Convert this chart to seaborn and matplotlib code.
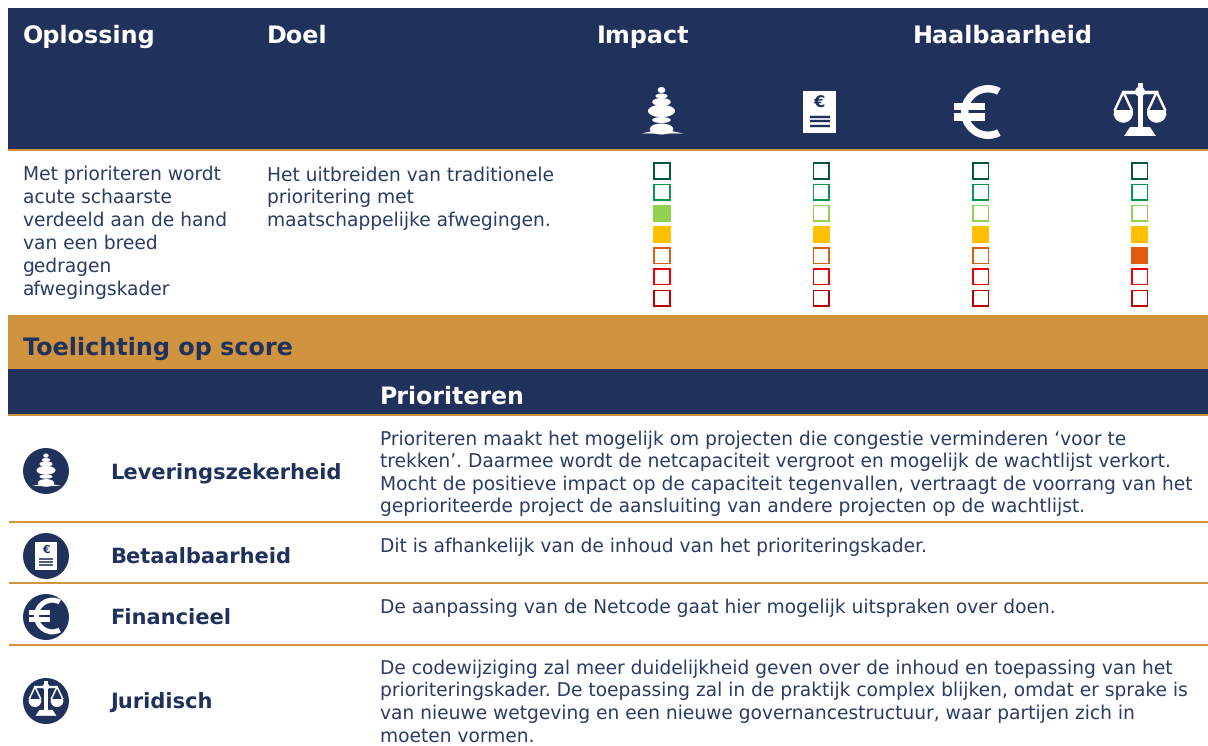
"""Scorecard for the oplossing Prioriteren"""

import pandas as pd
import matplotlib
matplotlib.use('Agg')
import matplotlib.pyplot as plt
import seaborn as sns
from matplotlib.patches import Circle, Ellipse, Polygon, Rectangle, Wedge

NAVY = '#20315C'
GOLD = '#D09441'
TEXT = '#2A3B66'

W, H = 1208, 746

# Score data
score_columns = ['Impact', 'Betaalbaarheid', 'Financieel', 'Juridisch']
score_levels = [0, 1, 2, 3, 4, 5, 6]
level_colors = ['#00573F', '#00994F', '#92D050', '#FFC000', '#E05A10', '#F00000', '#C00000']
filled_columns = ['Impact', 'Impact', 'Betaalbaarheid', 'Financieel', 'Juridisch', 'Juridisch']
filled_levels = [2, 3, 3, 3, 3, 4]

# Text
oplossing_lines = ['Met prioriteren wordt', 'acute schaarste', 'verdeeld aan de hand',
                   'van een breed', 'gedragen', 'afwegingskader']
doel_lines = ['Het uitbreiden van traditionele', 'prioritering met', 'maatschappelijke afwegingen.']
row_titles = ['Leveringszekerheid', 'Betaalbaarheid', 'Financieel', 'Juridisch']
row_lines = [
    ['Prioriteren maakt het mogelijk om projecten die congestie verminderen ‘voor te',
     'trekken’. Daarmee wordt de netcapaciteit vergroot en mogelijk de wachtlijst verkort.',
     'Mocht de positieve impact op de capaciteit tegenvallen, vertraagt de voorrang van het',
     'geprioriteerde project de aansluiting van andere projecten op de wachtlijst.'],
    ['Dit is afhankelijk van de inhoud van het prioriteringskader.'],
    ['De aanpassing van de Netcode gaat hier mogelijk uitspraken over doen.'],
    ['De codewijziging zal meer duidelijkheid geven over de inhoud en toepassing van het',
     'prioriteringskader. De toepassing zal in de praktijk complex blijken, omdat er sprake is',
     'van nieuwe wetgeving en een nieuwe governancestructuur, waar partijen zich in',
     'moeten vormen.'],
]


def stones_icon(ax, cx, cy, k, fg):
    for dy, w, h in [(-22, 7.5, 6), (-16, 12, 5), (-10, 18.5, 8), (-1, 27, 12.5),
                     (8, 18.5, 6), (17, 23.5, 11)]:
        ax.add_patch(Ellipse((cx, cy + dy * k), w * k, h * k, color=fg, lw=0))
    ax.add_patch(Polygon([(cx - 20 * k, cy + 21.5 * k), (cx - 9 * k, cy + 19 * k),
                          (cx + 10 * k, cy + 19 * k), (cx + 22 * k, cy + 21.5 * k)],
                         color=fg, lw=0))


def doc_icon(ax, cx, cy, k, fg, bg):
    ax.add_patch(Rectangle((cx - 16.5 * k, cy - 21 * k), 33 * k, 42 * k, color=fg, lw=0))
    ax.text(cx, cy - 9 * k, '€', color=bg, fontsize=11.8 * k, fontweight='bold',
            ha='center', va='center')
    for dy in [4.7, 9.3, 14]:
        ax.plot([cx - 10 * k, cx + 10 * k], [cy + dy * k, cy + dy * k], color=bg,
                lw=1.7 * k, solid_capstyle='butt')


def euro_icon(ax, cx, cy, k, fg):
    ax.add_patch(Wedge((cx + 13 * k, cy), 27 * k, 62, 298, width=7.5 * k, color=fg, lw=0))
    for dy in [-5.6, 5]:
        ax.add_patch(Rectangle((cx - 21 * k, cy + (dy - 3.6) * k), 31 * k, 7.2 * k, color=fg, lw=0))


def scales_icon(ax, cx, cy, k, fg):
    ax.add_patch(Rectangle((cx - 2.5 * k, cy - 29 * k), 5 * k, 47 * k, color=fg, lw=0))
    ax.add_patch(Circle((cx, cy - 20.3 * k), 5 * k, color=fg, lw=0))
    ax.plot([cx - 18 * k, cx + 18 * k], [cy - 20.3 * k, cy - 20.3 * k], color=fg,
            lw=2.5 * k, solid_capstyle='butt')
    ax.add_patch(Polygon([(cx - 16 * k, cy + 24 * k), (cx + 16 * k, cy + 24 * k),
                          (cx + 10 * k, cy + 15 * k), (cx - 10 * k, cy + 15 * k)],
                         color=fg, lw=0))
    for side in [-1, 1]:
        px = cx + side * 16.7 * k
        ax.add_patch(Wedge((px, cy + 1 * k), 9.7 * k, 0, 180, color=fg, lw=0))
        ax.add_patch(Rectangle((px - 9.7 * k, cy - 2 * k), 19.4 * k, 3.1 * k, color=fg, lw=0))
        ax.plot([px - 8.5 * k, px, px + 8.5 * k], [cy - 2 * k, cy - 20 * k, cy - 2 * k],
                color=fg, lw=1.8 * k)


sns.set_theme(style='white')
plt.rcParams['font.family'] = ['DejaVu Sans']
plt.rcParams['text.hinting'] = 'none'

fig = plt.figure(figsize=(W / 100, H / 100), dpi=100, facecolor='white')
ax = fig.add_axes([0, 0, 1, 1])
ax.set_xlim(0, W)
ax.set_ylim(H, 0)
ax.axis('off')

# Bands
ax.add_patch(Rectangle((8, 8), W - 8, 141, color=NAVY, lw=0))
ax.add_patch(Rectangle((8, 149), W - 8, 2, color=GOLD, lw=0))
ax.add_patch(Rectangle((8, 315), W - 8, 54, color=GOLD, lw=0))
ax.add_patch(Rectangle((8, 369), W - 8, 45, color=NAVY, lw=0))
ax.add_patch(Rectangle((8, 414), W - 8, 1.5, color=GOLD, lw=0))
for y in [521, 582, 644]:
    ax.add_patch(Rectangle((9, y), W - 9, 1.5, color=GOLD, lw=0))

# Header text
for x, label in [(23, 'Oplossing'), (267, 'Doel'), (597, 'Impact'), (913, 'Haalbaarheid')]:
    ax.text(x, 43, label, color='white', fontsize=17.2, fontweight='bold', va='baseline')

# Header icons
stones_icon(ax, 661.5, 112, 1, 'white')
doc_icon(ax, 819.5, 112, 1, 'white', NAVY)
euro_icon(ax, 975, 112, 1, 'white')
scales_icon(ax, 1140, 112, 1, 'white')

# Oplossing and doel
for i, line in enumerate(oplossing_lines):
    ax.text(23, 180 + i * 23, line, color=TEXT, fontsize=13.45, va='baseline')
for i, line in enumerate(doel_lines):
    ax.text(267, 181 + i * 22.5, line, color=TEXT, fontsize=13.45, va='baseline')

# Explanation headers
ax.text(23, 355, 'Toelichting op score', color=NAVY, fontsize=17.2, fontweight='bold', va='baseline')
ax.text(380, 404, 'Prioriteren', color='white', fontsize=17, fontweight='bold', va='baseline')

# Explanation rows
title_y = [479, 564, 625, 709]
line_y = [445, 552, 613, 674]
for title, lines, ty, ly in zip(row_titles, row_lines, title_y, line_y):
    ax.text(110, ty, title, color=NAVY, fontsize=15.1, fontweight='bold', va='baseline')
    for i, line in enumerate(lines):
        ax.text(380, ly + i * 22.5, line, color=TEXT, fontsize=13.45, va='baseline')

# Round icons
for cy in [471, 556, 617, 701]:
    ax.add_patch(Circle((46, cy), 23, color=NAVY, lw=0))
stones_icon(ax, 46, 471, 0.7, 'white')
doc_icon(ax, 46, 556, 0.66, 'white', NAVY)
euro_icon(ax, 43.5, 616, 0.68, 'white')
scales_icon(ax, 46, 700, 0.66, 'white')

# Score squares on their own axes, columns 159.3 px and rows 21.17 px apart
x0, x1, y0, y1 = 582, 1208, 160, 310
ax_score = fig.add_axes([x0 / W, 1 - y1 / H, (x1 - x0) / W, (y1 - y0) / H])
ax_score.patch.set_alpha(0)

grid = pd.DataFrame(
    [(c, i, lvl) for i, c in enumerate(score_columns) for lvl in score_levels],
    columns=['column', 'x', 'level'],
)
filled = set(zip(filled_columns, filled_levels))
grid['filled'] = [(c, lvl) in filled for c, lvl in zip(grid['column'], grid['level'])]

sns.scatterplot(data=grid, x='x', y='level', hue='level', palette=level_colors, marker='s',
                s=150, linewidth=0, legend=False, ax=ax_score)
sns.scatterplot(data=grid[~grid['filled']], x='x', y='level', color='white', marker='s',
                s=105, linewidth=0, legend=False, ax=ax_score)
ax_score.set_xlim((x0 - 662) / 159.3, (x1 - 662) / 159.3)
ax_score.set_ylim((y1 - 171) / 21.17, (y0 - 171) / 21.17)
ax_score.axis('off')

fig.savefig('out.png', dpi=100, facecolor='white')
plt.close(fig)
